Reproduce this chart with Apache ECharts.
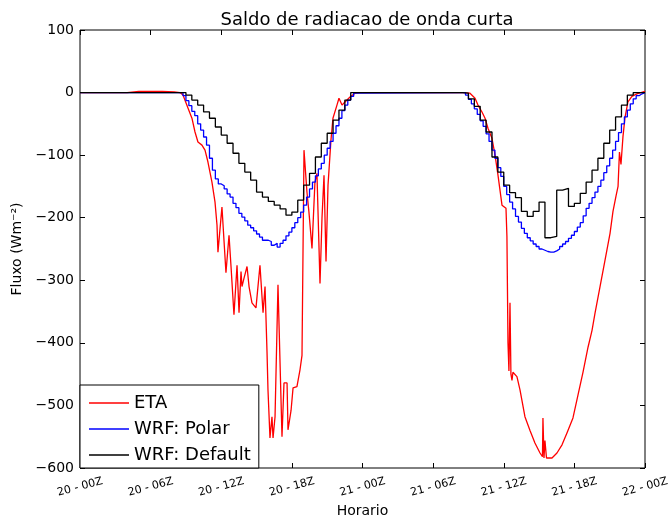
<!DOCTYPE html>
<html>
<head>
<meta charset="utf-8">
<script src="https://cdn.jsdelivr.net/npm/echarts@6/dist/echarts.min.js"></script>
<style>html,body{margin:0;padding:0;background:#fff}#c{width:670px;height:515px}</style>
</head>
<body>
<div id="c"></div>
<script>
// Tick labels (every 6 hours, hours counted from 20 - 00Z)
const hourLabels = ['20 - 00Z','20 - 06Z','20 - 12Z','20 - 18Z','21 - 00Z','21 - 06Z','21 - 12Z','21 - 18Z','22 - 00Z'];
const seriesNames = ['ETA', 'WRF: Polar', 'WRF: Default'];

// ETA (irregular samples): hours and flux
const etaTime = [0, 4, 5, 7, 8, 8.5, 8.75, 9.18, 9.51, 9.77, 10.02, 10.36, 10.62, 10.87, 11.21,
  11.47, 11.64, 11.72, 12.06, 12.40, 12.66, 12.83, 13.08, 13.34, 13.51, 13.68, 13.76, 13.93, 14.19, 14.36,
  14.61, 14.95, 15.29, 15.55, 15.72, 15.89, 15.97, 16.14, 16.31, 16.40, 16.57, 16.82, 17.16, 17.33, 17.59,
  17.67, 17.93, 18.10, 18.43, 18.69, 18.86, 19.03, 19.28, 19.45, 19.71, 19.96, 20.13, 20.39, 20.56, 20.73,
  20.90, 21.07, 21.32, 21.49, 21.83, 22.0, 22.26, 22.51, 22.94, 23.36, 23.79,
  32.54, 33.13, 33.56, 33.81, 34.15, 34.41, 34.66, 35.0, 35.26, 35.51, 35.85, 35.93, 36.19, 36.27, 36.36,
  36.44, 36.53, 36.61, 36.70, 36.78, 37.12, 37.38, 37.80, 38.23, 38.65, 39.08, 39.29, 39.33, 39.42, 39.50,
  39.63, 40.10, 40.52, 40.95, 41.37, 41.88, 42.31, 42.73, 43.16, 43.50, 43.75, 44.18, 44.60, 45.03, 45.28,
  45.54, 45.71, 45.83, 45.96, 46.13, 46.30, 46.55, 46.89, 47.31, 48];
const etaFlux = [0, 0, 2, 2, 1, 0, -4, -25, -41, -63, -79, -84, -92, -111, -143,
  -175, -212, -255, -183, -288, -228, -278, -355, -276, -352, -286, -310, -297, -278, -310,
  -336, -344, -276, -352, -310, -416, -475, -552, -518, -552, -518, -307, -550, -464, -464,
  -539, -508, -472, -470, -443, -420, -92, -159, -191, -249, -143, -129, -305, -200, -132,
  -270, -148, -76, -41, -20, -9, -20, -15, -7, -1, 0,
  0, -1, -9, -20, -31, -41, -57, -73, -100, -132, -180, -182, -185, -230, -400,
  -445, -336, -450, -460, -447, -454, -475, -518, -540, -560, -576, -582, -520, -584, -556,
  -584, -584, -576, -563, -544, -520, -483, -447, -407, -380, -353, -310, -268, -225, -190,
  -165, -150, -95, -115, -70, -40, -15, -6, -2, 2];

// WRF: Polar, 15-minute output
const polarDay1Start = 8.5, polarStep = 0.25;
const polarDay1 = [0, -5, -13, -21, -30, -37, -50, -60, -71, -84, -105, -124, -138, -146, -149, -154,
  -162, -167, -177, -184, -193, -199, -205, -212, -216, -221, -226, -231, -236, -236, -238, -244, -241,
  -247, -241, -236, -229, -223, -216, -208, -200, -191, -180, -167, -154, -143, -133, -122, -113, -100,
  -89, -78, -65, -53, -41, -29, -20, -12, -6, -1, 0];
const polarDay2Start = 32.5;
const polarDay2 = [0, -4, -11, -18, -26, -35, -45, -54, -66, -78, -92, -105, -120, -134, -150, -163,
  -175, -186, -198, -207, -217, -225, -232, -237, -242, -246, -250, -252, -254, -255, -255, -253, -250,
  -246, -242, -238, -233, -228, -222, -215, -208, -197, -185, -177, -168, -159, -150, -140, -128, -117,
  -105, -92, -78, -64, -50, -39, -28, -18, -10, -5, -2, 0];

// WRF: Default, 30-minute output
const defDay1Start = 9, defStep = 0.5;
const defDay1 = [-4, -12, -20, -31, -41, -55, -68, -81, -97, -113, -127, -140, -159, -167, -174, -180,
  -186, -196, -191, -172, -148, -129, -103, -81, -65, -44, -28, -12, 0];
const defDay2Start = 32.5;
const defDay2 = [-1, -10, -22, -44, -63, -103, -127, -148, -160, -168, -190, -198, -190, -175, -232,
  -230, -156, -153, -182, -177, -161, -143, -124, -105, -81, -60, -39, -20, -4, 0];

function grid15(start, step, vals) { return vals.map((v, i) => [start + i * step, v]); }
const etaData = etaTime.map((t, i) => [t, etaFlux[i]]);
const polarData = [[0, 0]].concat(grid15(polarDay1Start, polarStep, polarDay1),
  grid15(polarDay2Start, polarStep, polarDay2), [[48, 0]]);
const defData = [[0, 0]].concat(grid15(defDay1Start, defStep, defDay1),
  grid15(defDay2Start, defStep, defDay2), [[48, 0]]);

const FONT = 'DejaVu Sans';
const minus = v => (v < 0 ? '\u2212' + Math.abs(v) : String(v));
const chart = echarts.init(document.getElementById('c'), null, { renderer: 'canvas' });
const xBase = { type: 'value', min: 0, max: 48, interval: 6 };
const yBase = { type: 'value', min: -600, max: 100, interval: 100 };
const tick = { inside: true, length: 5, lineStyle: { color: '#000', width: 1 } };
chart.setOption({
  animation: false,
  backgroundColor: '#fff',
  title: {
    text: 'Saldo de radiacao de onda curta', left: 362, top: 6, textAlign: 'center',
    textStyle: { fontFamily: FONT, fontSize: 18, fontWeight: 'normal', color: '#000' }
  },
  grid: { left: 80, right: 25, top: 30, bottom: 47, show: true, borderColor: '#000', borderWidth: 1,
    backgroundColor: 'transparent', containLabel: false, outerBoundsMode: 'none' },
  legend: {
    data: seriesNames, orient: 'vertical', left: 80, bottom: 47, icon: 'rect',
    backgroundColor: '#fff', borderColor: '#000', borderWidth: 1, borderRadius: 0,
    padding: [9, 8, 4, 9], itemWidth: 40, itemHeight: 1.4, itemGap: 8,
    textStyle: { fontFamily: FONT, fontSize: 18, color: '#000', lineHeight: 18 }
  },
  xAxis: [
    Object.assign({}, xBase, {
      position: 'bottom',
      name: 'Horario', nameLocation: 'middle', nameGap: 31,
      nameTextStyle: { fontFamily: FONT, fontSize: 14, color: '#000' },
      axisLine: { show: false, onZero: false }, splitLine: { show: false },
      axisTick: tick,
      axisLabel: { rotate: 15, align: 'center', verticalAlign: 'middle', margin: 19, fontFamily: FONT, fontSize: 11, color: '#000',
        formatter: v => hourLabels[Math.round(v / 6)] }
    }),
    Object.assign({}, xBase, {
      position: 'top', axisLine: { show: false, onZero: false }, splitLine: { show: false }, axisLabel: { show: false },
      axisTick: tick
    })
  ],
  yAxis: [
    Object.assign({}, yBase, {
      position: 'left',
      name: 'Fluxo (Wm\u207B\u00B2)', nameLocation: 'middle', nameGap: 56,
      nameTextStyle: { fontFamily: FONT, fontSize: 14, color: '#000' },
      axisLine: { show: false, onZero: false }, splitLine: { show: false },
      axisTick: tick,
      axisLabel: { margin: 6, fontFamily: FONT, fontSize: 14, color: '#000', formatter: minus }
    }),
    Object.assign({}, yBase, {
      position: 'right', axisLine: { show: false, onZero: false }, splitLine: { show: false }, axisLabel: { show: false },
      axisTick: tick
    })
  ],
  series: [
    { name: seriesNames[0], type: 'line', data: etaData, symbol: 'none', lineStyle: { color: '#ff0000', width: 1.3 }, itemStyle: { color: '#ff0000' } },
    { name: seriesNames[1], type: 'line', step: 'end', data: polarData, symbol: 'none', lineStyle: { color: '#0000ff', width: 1.3 }, itemStyle: { color: '#0000ff' } },
    { name: seriesNames[2], type: 'line', step: 'end', data: defData, symbol: 'none', lineStyle: { color: '#000000', width: 1.3 }, itemStyle: { color: '#000000' } }
  ]
});
</script>
</body>
</html>
